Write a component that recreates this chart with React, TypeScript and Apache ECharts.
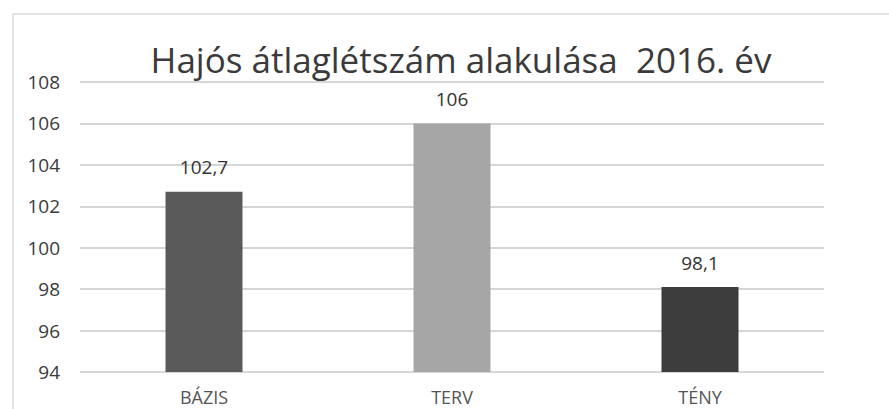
import React, { useEffect, useRef } from "react";
import * as echarts from "echarts";

const titleText = "Hajós átlaglétszám alakulása  2016. év";
const categories = ["BÁZIS", "TERV", "TÉNY"];
const values = [102.7, 106, 98.1];
const barColors = ["#5a5a5a", "#a6a6a6", "#3c3c3c"];
const yMin = 94;
const yMax = 108;
const yStep = 2;

const FONT = "'Open Sans', sans-serif";

export default function App() {
  const ref = useRef<HTMLDivElement>(null);
  useEffect(() => {
    document.body.style.margin = "0";
    const chart = echarts.init(ref.current!, null, { renderer: "svg" });
    chart.setOption({
      animation: false,
      backgroundColor: "#ffffff",
      title: {
        text: titleText,
        left: 456,
        top: 37,
        textAlign: "center",
        textStyle: { fontFamily: FONT, fontSize: 35, fontWeight: "normal", color: "#3a3a3a" },
      },
      graphic: [
        {
          type: "rect",
          shape: { x: 13, y: 14, width: 900, height: 420 },
          style: { fill: "none", stroke: "#dcdcdc", lineWidth: 1.5 },
          silent: true,
        },
      ],
      grid: { left: 80, right: 65, top: 82, bottom: 37 },
      xAxis: {
        type: "category",
        data: categories,
        axisLine: { show: false },
        axisTick: { show: false },
        axisLabel: { fontFamily: FONT, fontSize: 18, color: "#555555", margin: 16 },
      },
      yAxis: {
        type: "value",
        min: yMin,
        max: yMax,
        interval: yStep,
        axisLine: { show: false },
        axisTick: { show: false },
        axisLabel: { fontFamily: FONT, fontSize: 19, color: "#3a3a3a", margin: 20 },
        splitLine: { lineStyle: { color: "#c8c8c8", width: 1.5 } },
      },
      series: [
        {
          type: "bar",
          barWidth: 77,
          data: values.map((v, i) => ({ value: v, itemStyle: { color: barColors[i] } })),
          label: {
            show: true,
            position: "top",
            distance: 15,
            fontFamily: FONT,
            fontSize: 19,
            color: "#333333",
            formatter: (p: any) => String(p.value).replace(".", ","),
          },
        },
      ],
    });
    return () => chart.dispose();
  }, []);
  return <div ref={ref} style={{ width: 889, height: 409 }} />;
}
